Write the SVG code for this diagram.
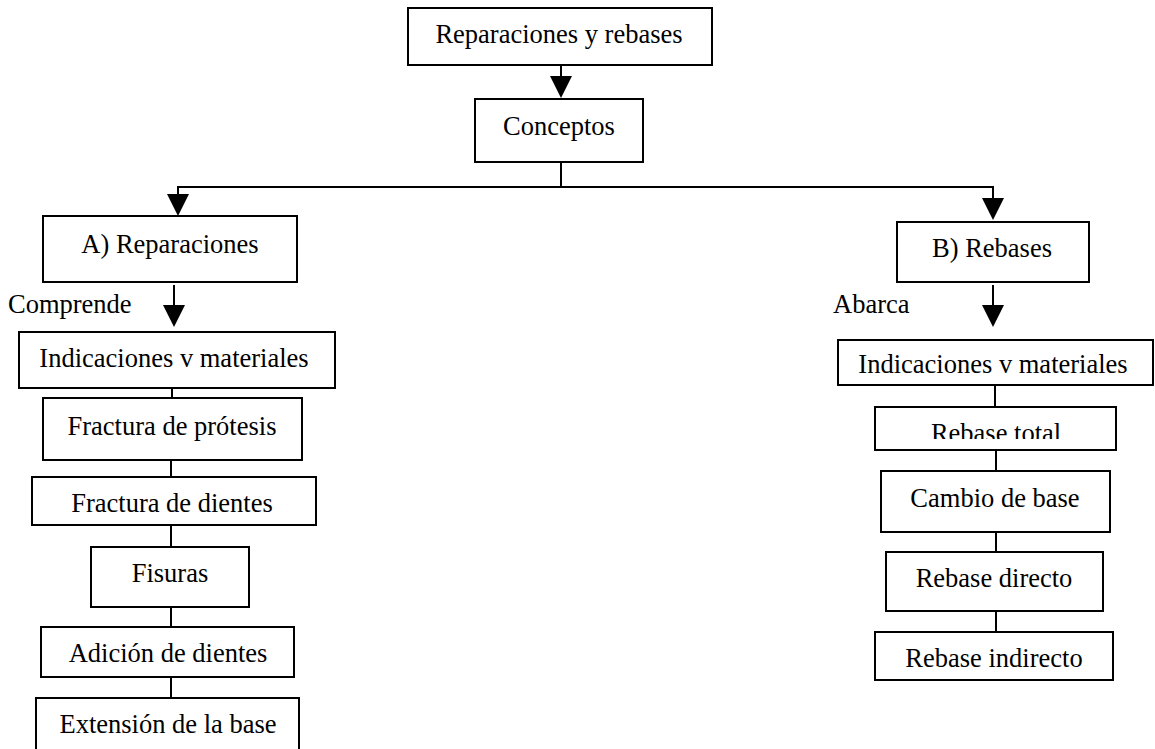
<svg xmlns="http://www.w3.org/2000/svg" width="1155" height="749" viewBox="0 0 1155 749">
  <style>
    .box { fill: #ffffff; stroke: #000000; stroke-width: 2; }
    .lbl { font-family: "Liberation Serif", "Times New Roman", serif; font-size: 26.5px; fill: #000000; text-anchor: middle; }
    .note { font-family: "Liberation Serif", "Times New Roman", serif; font-size: 26.5px; fill: #000000; }
    .wire { fill: none; stroke: #000000; stroke-width: 2; }
  </style>
  <defs>
    <marker id="head" viewBox="0 0 22 22" refX="12" refY="11" markerWidth="22" markerHeight="22" markerUnits="userSpaceOnUse" orient="auto">
      <path d="M0,0 L22,11 L0,22 Z" fill="#000000"/>
    </marker>
    <clipPath id="clipTotal">
      <rect x="875" y="407" width="241" height="32"/>
    </clipPath>
  </defs>
  <rect width="1155" height="749" fill="#ffffff"/>

  <!-- connectors -->
  <g id="connectors">
    <line class="wire" x1="561" y1="65" x2="561" y2="88" marker-end="url(#head)"/>
    <line class="wire" x1="561" y1="162" x2="561" y2="187"/>
    <polyline class="wire" points="178,206 178,187 993,187 993,210" marker-end="url(#head)"/>
    <line class="wire" x1="178" y1="187" x2="178" y2="206" marker-end="url(#head)"/>
    <line class="wire" x1="174" y1="285" x2="174" y2="317" marker-end="url(#head)"/>
    <line class="wire" x1="993" y1="285" x2="993" y2="317" marker-end="url(#head)"/>
    <!-- left chain -->
    <line class="wire" x1="172" y1="388" x2="172" y2="398"/>
    <line class="wire" x1="171" y1="460" x2="171" y2="477"/>
    <line class="wire" x1="171" y1="525" x2="171" y2="547"/>
    <line class="wire" x1="171" y1="607" x2="171" y2="627"/>
    <line class="wire" x1="171" y1="677" x2="171" y2="698"/>
    <!-- right chain -->
    <line class="wire" x1="995" y1="385" x2="995" y2="407"/>
    <line class="wire" x1="996" y1="450" x2="996" y2="471"/>
    <line class="wire" x1="996" y1="532" x2="996" y2="552"/>
    <line class="wire" x1="996" y1="611" x2="996" y2="632"/>
  </g>

  <text class="note" x="8" y="313">Comprende</text>
  <text class="note" x="833" y="313">Abarca</text>

  <g id="n-root">
    <rect class="box" x="408" y="8" width="304" height="57"/>
    <text class="lbl" x="559" y="43">Reparaciones y rebases</text>
  </g>
  <g id="n-conceptos">
    <rect class="box" x="475" y="99" width="168" height="63"/>
    <text class="lbl" x="559" y="135">Conceptos</text>
  </g>

  <g id="n-reparaciones">
    <rect class="box" x="43" y="216" width="254" height="66"/>
    <text class="lbl" x="170" y="253">A) Reparaciones</text>
  </g>
  <g id="n-ind-a">
    <rect class="box" x="19" y="332" width="316" height="56"/>
    <text class="lbl" x="174" y="367">Indicaciones v materiales</text>
  </g>
  <g id="n-fract-protesis">
    <rect class="box" x="43" y="398" width="259" height="62"/>
    <text class="lbl" x="172" y="435">Fractura de prótesis</text>
  </g>
  <g id="n-fract-dientes">
    <rect class="box" x="32" y="477" width="284" height="48"/>
    <text class="lbl" x="172" y="512">Fractura de dientes</text>
  </g>
  <g id="n-fisuras">
    <rect class="box" x="91" y="547" width="158" height="60"/>
    <text class="lbl" x="170" y="582">Fisuras</text>
  </g>
  <g id="n-adicion">
    <rect class="box" x="41" y="627" width="253" height="50"/>
    <text class="lbl" x="168" y="662">Adición de dientes</text>
  </g>
  <g id="n-extension">
    <rect class="box" x="36" y="698" width="263" height="56"/>
    <text class="lbl" x="168" y="733">Extensión de la base</text>
  </g>

  <g id="n-rebases">
    <rect class="box" x="897" y="222" width="192" height="60"/>
    <text class="lbl" x="992" y="257">B) Rebases</text>
  </g>
  <g id="n-ind-b">
    <rect class="box" x="838" y="340" width="315" height="45"/>
    <text class="lbl" x="993" y="373">Indicaciones v materiales</text>
  </g>
  <g id="n-rebase-total">
    <rect class="box" x="875" y="407" width="241" height="43"/>
    <text class="lbl" x="996" y="442" clip-path="url(#clipTotal)">Rebase total</text>
  </g>
  <g id="n-cambio">
    <rect class="box" x="881" y="471" width="229" height="61"/>
    <text class="lbl" x="995" y="507">Cambio de base</text>
  </g>
  <g id="n-directo">
    <rect class="box" x="886" y="552" width="217" height="59"/>
    <text class="lbl" x="994" y="587">Rebase directo</text>
  </g>
  <g id="n-indirecto">
    <rect class="box" x="875" y="632" width="238" height="48"/>
    <text class="lbl" x="994" y="667">Rebase indirecto</text>
  </g>
</svg>
